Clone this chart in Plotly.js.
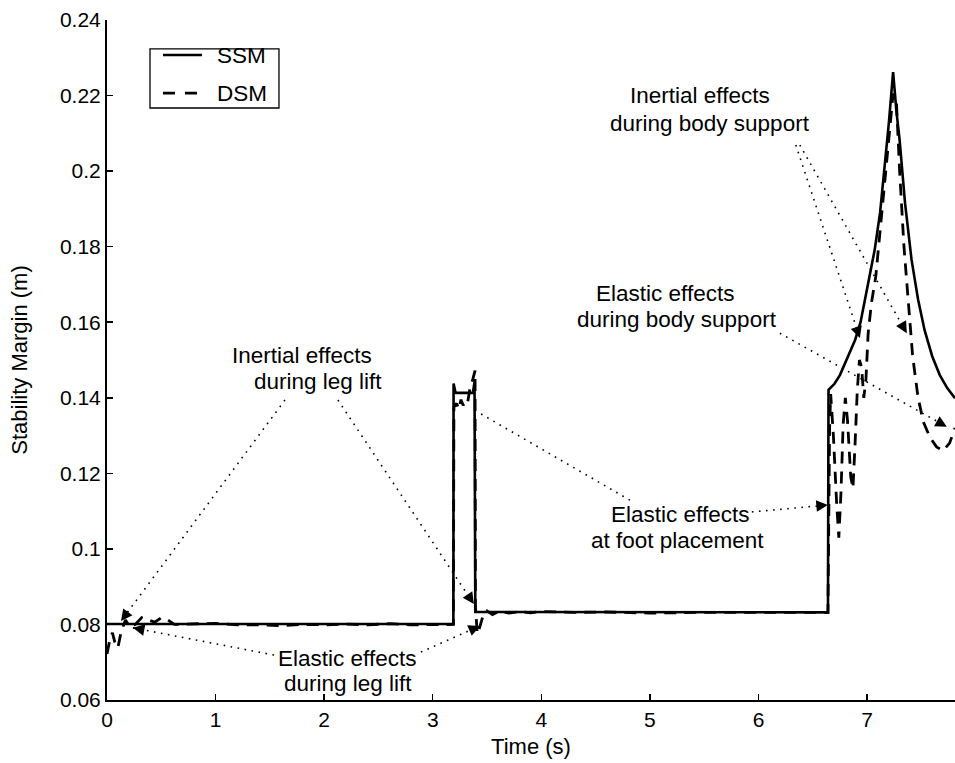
<!DOCTYPE html>
<html>
<head>
<meta charset="utf-8">
<script src="https://cdn.plot.ly/plotly-3.0.1.min.js"></script>
<style>html,body{margin:0;padding:0;background:#fff;}#chart{width:955px;height:763px;}</style>
</head>
<body>
<div id="chart"></div>
<script>
// ---------------- data ----------------
const ssmT = [0, 0.5, 1, 1.5, 2, 2.5, 3, 3.19, 3.192, 3.21, 3.37, 3.385, 3.392, 3.5, 4, 5, 6, 6.64,
  6.645, 6.70, 6.75, 6.80, 6.85, 6.89, 6.94, 6.98, 7.03, 7.07, 7.12, 7.16, 7.20, 7.24,
  7.27, 7.30, 7.35, 7.41, 7.47, 7.53, 7.60, 7.67, 7.74, 7.81];
const ssmV = [0.0801, 0.0801, 0.0801, 0.0801, 0.0801, 0.0801, 0.0801, 0.0801, 0.1438, 0.1413, 0.1413, 0.1442, 0.0833, 0.0833, 0.0833, 0.0832, 0.0832, 0.0832,
  0.1421, 0.1437, 0.1460, 0.1495, 0.1530, 0.1553, 0.1600, 0.1659, 0.1725, 0.1791, 0.1890, 0.2003, 0.2125, 0.2262,
  0.2160, 0.2082, 0.1915, 0.1765, 0.1660, 0.1579, 0.1510, 0.1460, 0.1425, 0.1399];

const dsmT = [0, 0.03, 0.05, 0.07, 0.10, 0.13, 0.17, 0.21, 0.26, 0.32, 0.38, 0.44, 0.50, 0.56, 0.62, 0.8, 1.0, 1.2, 1.4, 1.6, 1.8, 2.0, 2.2, 2.4, 2.6, 2.8, 3.0, 3.19,
  3.195, 3.22, 3.24, 3.26, 3.28, 3.30, 3.32, 3.34, 3.37, 3.39, 3.393, 3.41, 3.43, 3.46, 3.50, 3.55, 3.62, 3.7, 3.8, 3.9, 4.0, 4.3, 4.6, 5.0, 5.5, 6.0, 6.4, 6.64,
  6.645, 6.655, 6.665, 6.69, 6.72, 6.74, 6.76, 6.78, 6.80, 6.82, 6.85, 6.87, 6.89, 6.91, 6.93, 6.95, 6.97, 6.99, 7.01, 7.04, 7.08, 7.12, 7.16, 7.20, 7.24,
  7.27, 7.30, 7.34, 7.38, 7.42, 7.47, 7.52, 7.58, 7.64, 7.70, 7.76, 7.81];
const dsmV = [0.0722, 0.0765, 0.0778, 0.0755, 0.0738, 0.0780, 0.0812, 0.0793, 0.0800, 0.0818, 0.0812, 0.0806, 0.0818, 0.0812, 0.0800, 0.0801, 0.0803, 0.0799, 0.0799, 0.0797, 0.0800, 0.0799, 0.0801, 0.0799, 0.0802, 0.0799, 0.0800, 0.0800,
  0.1375, 0.1385, 0.1370, 0.1395, 0.1380, 0.1390, 0.1385, 0.1420, 0.1450, 0.1472, 0.0850, 0.0775, 0.0790, 0.0820, 0.0836, 0.0826, 0.0836, 0.0830, 0.0834, 0.0831, 0.0834, 0.0832, 0.0833, 0.0830, 0.0832, 0.0831, 0.0832, 0.0832,
  0.1120, 0.1320, 0.1410, 0.1300, 0.1120, 0.1030, 0.1150, 0.1330, 0.1400, 0.1340, 0.1190, 0.1160, 0.1280, 0.1420, 0.1500, 0.1480, 0.1400, 0.1450, 0.1570, 0.1650, 0.1720, 0.1840, 0.1960, 0.2090, 0.2205,
  0.2185, 0.2000, 0.1800, 0.1650, 0.1510, 0.1400, 0.1335, 0.1295, 0.1270, 0.1260, 0.1280, 0.1320];

const seriesNames = ['SSM', 'DSM'];
const xTickVals = [0, 1, 2, 3, 4, 5, 6, 7];
const xTickText = ['0', '1', '2', '3', '4', '5', '6', '7'];
const yTickVals = [0.06, 0.08, 0.10, 0.12, 0.14, 0.16, 0.18, 0.20, 0.22, 0.24];
const yTickText = ['0.06', '0.08', '0.1', '0.12', '0.14', '0.16', '0.18', '0.2', '0.22', '0.24'];

// annotation labels (text lines)
const labels = [
  {text: 'Inertial effects', x: 1.796, y: 0.1513},
  {text: 'during leg lift', x: 1.943, y: 0.1442},
  {text: 'Elastic effects', x: 2.210, y: 0.0711},
  {text: 'during leg lift', x: 2.219, y: 0.0645},
  {text: 'Elastic effects', x: 5.276, y: 0.1090},
  {text: 'at foot placement', x: 5.258, y: 0.1021},
  {text: 'Elastic effects', x: 5.138, y: 0.1675},
  {text: 'during body support', x: 5.249, y: 0.1606},
  {text: 'Inertial effects', x: 5.460, y: 0.2199},
  {text: 'during body support', x: 5.552, y: 0.2127}
];
// pointer lines: start (near text) -> tip
const pointers = [
  {x0: 1.639, y0: 0.1394, x1: 0.129, y1: 0.0809, head: true},
  {x0: 2.127, y0: 0.1394, x1: 3.379, y1: 0.0854, head: true},
  {x0: 1.538, y0: 0.0719, x1: 0.239, y1: 0.0791, head: true},
  {x0: 2.891, y0: 0.0727, x1: 3.435, y1: 0.0796, head: true},
  {x0: 4.816, y0: 0.1129, x1: 3.416, y1: 0.1362, head: false},
  {x0: 5.939, y0: 0.1098, x1: 6.639, y1: 0.1116, head: true},
  {x0: 6.344, y0: 0.2069, x1: 6.934, y1: 0.1558, head: true},
  {x0: 6.381, y0: 0.2069, x1: 7.366, y1: 0.1571, head: true},
  {x0: 6.197, y0: 0.1571, x1: 7.735, y1: 0.1323, head: true}
];

// ---------------- layout ----------------
const FONT = 'Liberation Sans, Arial, Helvetica, sans-serif';
const M = {l: 107, r: 0, t: 20, b: 63};
const W = 955, H = 763;
const XR = [0, 7.81], YR = [0.06, 0.24];
const pw = W - M.l - M.r, ph = H - M.t - M.b;
const px = x => (x - XR[0]) / (XR[1] - XR[0]) * pw;
const py = y => (YR[1] - y) / (YR[1] - YR[0]) * ph;

const shapes = pointers.map(p => ({
  type: 'line', xref: 'x', yref: 'y', x0: p.x0, y0: p.y0, x1: p.x1, y1: p.y1,
  line: {color: '#000', width: 1.6, dash: '1.6px,5.5px'}
}));

// hand-built legend box (paper coordinates)
const LEG = {x0: 0.0507, x1: 0.2028, y0: 0.8706, y1: 0.9574, rows: [0.9485, 0.8926],
  sx0: 0.066, sx1: 0.112, tx: 0.1274};
shapes.push({type: 'rect', xref: 'paper', yref: 'paper', x0: LEG.x0, x1: LEG.x1, y0: LEG.y0, y1: LEG.y1,
  line: {color: '#000', width: 1.3}, fillcolor: '#fff', layer: 'above'});
shapes.push({type: 'line', xref: 'paper', yref: 'paper', x0: LEG.sx0, x1: LEG.sx1, y0: LEG.rows[0], y1: LEG.rows[0],
  line: {color: '#000', width: 2.6}, layer: 'above'});
shapes.push({type: 'line', xref: 'paper', yref: 'paper', x0: LEG.sx0, x1: LEG.sx1, y0: LEG.rows[1], y1: LEG.rows[1],
  line: {color: '#000', width: 2.8, dash: '12px,10px'}, layer: 'above'});

const annotations = labels.map(l => ({
  x: l.x, y: l.y, xref: 'x', yref: 'y', text: l.text, showarrow: false,
  xanchor: 'center', yanchor: 'middle', font: {family: FONT, size: 22.5, color: '#000'}
}));
seriesNames.forEach((n, i) => annotations.push({
  x: LEG.tx, y: LEG.rows[i], xref: 'paper', yref: 'paper', text: n, showarrow: false,
  xanchor: 'left', yanchor: 'middle', font: {family: FONT, size: 22.5, color: '#000'}
}));
pointers.filter(p => p.head).forEach(p => {
  const dx = px(p.x0) - px(p.x1), dy = py(p.y0) - py(p.y1);
  const d = Math.hypot(dx, dy), L = 12;
  annotations.push({
    x: p.x1, y: p.y1, xref: 'x', yref: 'y', text: '', showarrow: true,
    ax: dx / d * L, ay: dy / d * L, arrowhead: 2, arrowsize: 2.3, arrowwidth: 1,
    arrowcolor: '#000', standoff: 0, startstandoff: 0
  });
});

const traces = [
  {x: ssmT, y: ssmV, type: 'scatter', mode: 'lines', name: seriesNames[0],
   line: {color: '#000', width: 2.6}},
  {x: dsmT, y: dsmV, type: 'scatter', mode: 'lines', name: seriesNames[1],
   line: {color: '#000', width: 2.8, dash: '12px,8px'}}
];

const axisBase = {
  showline: true, linecolor: '#000', linewidth: 2, showgrid: false, zeroline: false,
  ticks: 'inside', ticklen: 6, tickwidth: 1.5, tickcolor: '#000',
  tickfont: {family: FONT, size: 21, color: '#000'}, mirror: false
};

const layout = {
  width: W, height: H, margin: M, paper_bgcolor: '#fff', plot_bgcolor: '#fff',
  font: {family: FONT, color: '#000'},
  showlegend: false,
  xaxis: Object.assign({}, axisBase, {range: XR, tickvals: xTickVals, ticktext: xTickText,
    title: {text: 'Time (s)', font: {family: FONT, size: 22, color: '#000'}, standoff: 8}}),
  yaxis: Object.assign({}, axisBase, {range: YR, tickvals: yTickVals, ticktext: yTickText,
    title: {text: 'Stability Margin (m)', font: {family: FONT, size: 22, color: '#000'}, standoff: 26}}),
  shapes: shapes,
  annotations: annotations
};

Plotly.newPlot('chart', traces, layout, {displayModeBar: false, staticPlot: true});
</script>
</body>
</html>
